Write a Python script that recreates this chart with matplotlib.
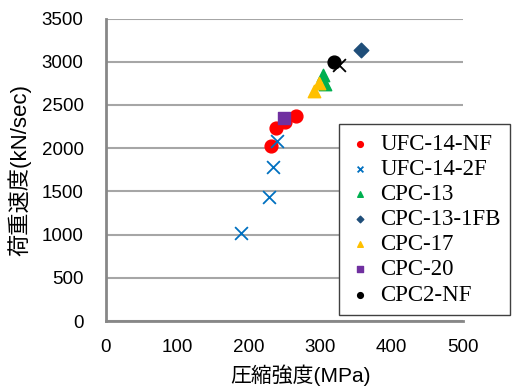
import matplotlib
matplotlib.use("Agg")
import matplotlib.pyplot as plt

plt.rcParams['font.family'] = ['Liberation Sans', 'Noto Sans CJK JP', 'DejaVu Sans']

# data (compressive strength MPa, loading rate kN/sec)
ufc14nf_x = [232, 239, 251, 266]
ufc14nf_y = [2025, 2230, 2307, 2376]
ufc142f_x = [190, 229, 234, 240]
ufc142f_y = [1018, 1435, 1782, 2087]
cpc13_x = [304, 307]
cpc13_y = [2847, 2745]
cpc131fb_x = [357]
cpc131fb_y = [3137]
cpc17_x = [291, 298]
cpc17_y = [2660, 2751]
cpc20_x = [250]
cpc20_y = [2353]
cpc2nf_x = [319]
cpc2nf_y = [3001]
extra_x = [326]
extra_y = [2963]

xticks = [0, 100, 200, 300, 400, 500]
yticks = [0, 500, 1000, 1500, 2000, 2500, 3000, 3500]

fig = plt.figure(figsize=(5.16, 3.86), dpi=100)
ax = fig.add_axes([0.205, 0.168, 0.692, 0.784])

ax.scatter(ufc14nf_x, ufc14nf_y, s=85, marker='o', color='#FF0000', label='UFC-14-NF', zorder=3)
ax.scatter(ufc142f_x, ufc142f_y, s=85, marker='x', color='#0070C0', linewidths=1.3, label='UFC-14-2F', zorder=3)
ax.scatter(cpc13_x, cpc13_y, s=80, marker='^', color='#00B050', label='CPC-13', zorder=3)
ax.scatter(cpc131fb_x, cpc131fb_y, s=55, marker='D', color='#1F4E79', label='CPC-13-1FB', zorder=3)
ax.scatter(cpc17_x, cpc17_y, s=80, marker='^', color='#FFC000', label='CPC-17', zorder=3)
ax.scatter(cpc20_x, cpc20_y, s=85, marker='s', color='#7030A0', label='CPC-20', zorder=3)
ax.scatter(cpc2nf_x, cpc2nf_y, s=85, marker='o', color='#000000', label='CPC2-NF', zorder=3)
ax.scatter(extra_x, extra_y, s=85, marker='x', color='#000000', linewidths=1.3, label='_nolegend_', zorder=3)

ax.set_xlim(0, 500)
ax.set_ylim(0, 3500)
ax.set_xticks(xticks)
ax.set_yticks(yticks)
ax.tick_params(length=0, labelsize=13.5, colors='#000000')
ax.tick_params(axis='y', pad=16)
ax.tick_params(axis='x', pad=13)

ax.grid(axis='y', color='#A6A6A6', linewidth=1.5, zorder=0)
ax.set_axisbelow(True)
for side in ['top', 'right']:
    ax.spines[side].set_visible(False)
for side in ['left', 'bottom']:
    ax.spines[side].set_color('#878787')
    ax.spines[side].set_linewidth(2)

ax.set_xlabel('圧縮強度(MPa)', fontsize=15, labelpad=0)
ax.set_ylabel('荷重速度(kN/sec)', fontsize=16, labelpad=0)
ax.xaxis.set_label_coords(0.545, -0.143)
ax.yaxis.set_label_coords(-0.207, 0.5)

leg = ax.legend(loc='upper left', bbox_to_anchor=(0.653, 0.65), fancybox=False,
                framealpha=1, edgecolor='#404040', markerscale=0.45,
                prop={'family': 'Liberation Serif', 'size': 16.5},
                labelspacing=0.18, handletextpad=0.4, handlelength=1.0,
                borderpad=0.4, borderaxespad=0)
leg.get_frame().set_linewidth(1.0)

fig.savefig('out.png', dpi=100)
